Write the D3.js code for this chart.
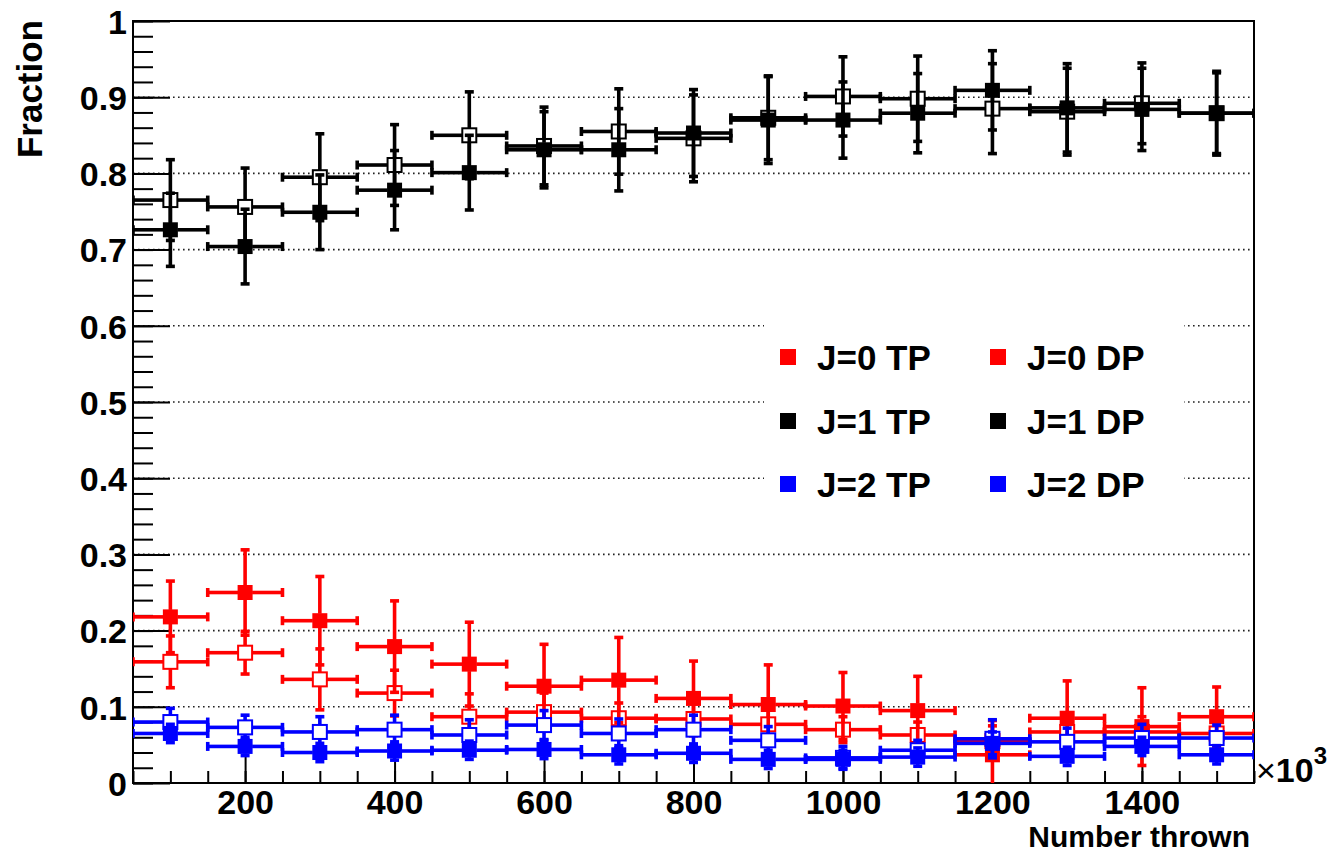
<!DOCTYPE html>
<html><head><meta charset="utf-8">
<script src="https://cdn.jsdelivr.net/npm/d3@7"></script>
<style>
html,body{margin:0;padding:0;background:#fff;}
svg text{font-family:"Liberation Sans",Arial,Helvetica,sans-serif;font-weight:bold;fill:#000;}
</style></head>
<body><svg id="c" width="1332" height="853"></svg>
<script>
// ---- data ----
const xCenters = [100,200,300,400,500,600,700,800,900,1000,1100,1200,1300,1400,1500];
const xHalfWidth = 50;
const j0TP = [0.218,0.250,0.213,0.179,0.156,0.127,0.135,0.111,0.103,0.101,0.095,0.037,0.085,0.074,0.087];
const j0TPerr = [0.047,0.056,0.058,0.060,0.055,0.055,0.056,0.049,0.052,0.044,0.045,0.045,0.049,0.051,0.039];
const j0DP = [0.159,0.171,0.136,0.118,0.087,0.093,0.085,0.084,0.077,0.070,0.063,0.055,0.067,0.067,0.065];
const j0DPerr = [0.034,0.028,0.040,0.030,0.030,0.025,0.020,0.020,0.020,0.017,0.017,0.020,0.020,0.020,0.020];
const j1TP = [0.726,0.704,0.749,0.778,0.801,0.831,0.831,0.853,0.870,0.870,0.879,0.909,0.886,0.884,0.879];
const j1TPerr = [0.048,0.049,0.049,0.052,0.049,0.050,0.054,0.057,0.057,0.050,0.052,0.052,0.058,0.054,0.053];
const j1DP = [0.765,0.756,0.795,0.811,0.850,0.836,0.855,0.846,0.873,0.901,0.898,0.885,0.881,0.892,0.879];
const j1DPerr = [0.053,0.051,0.057,0.053,0.057,0.051,0.056,0.057,0.055,0.052,0.056,0.059,0.057,0.053,0.055];
const j2TP = [0.065,0.048,0.040,0.042,0.043,0.044,0.037,0.039,0.031,0.031,0.034,0.052,0.035,0.048,0.037];
const j2TPerr = [0.012,0.012,0.012,0.012,0.012,0.012,0.012,0.012,0.012,0.012,0.012,0.015,0.012,0.012,0.012];
const j2DP = [0.080,0.073,0.067,0.070,0.063,0.076,0.065,0.070,0.056,0.033,0.043,0.058,0.054,0.059,0.059];
const j2DPerr = [0.018,0.016,0.020,0.019,0.020,0.019,0.019,0.019,0.018,0.015,0.013,0.025,0.018,0.018,0.017];
const yMajorTicks = [0,0.1,0.2,0.3,0.4,0.5,0.6,0.7,0.8,0.9,1];
const yTickLabels = ["0","0.1","0.2","0.3","0.4","0.5","0.6","0.7","0.8","0.9","1"];
const xMajorTicks = [200,400,600,800,1000,1200,1400];
const xTickLabels = ["200","400","600","800","1000","1200","1400"];
const legendLabels = ["J=0 TP","J=0 DP","J=1 TP","J=1 DP","J=2 TP","J=2 DP"];

const series = [
  {name:"J=0 DP", vals:j0DP, errs:j0DPerr, color:"#ff0000", open:true},
  {name:"J=0 TP", vals:j0TP, errs:j0TPerr, color:"#ff0000", open:false},
  {name:"J=1 DP", vals:j1DP, errs:j1DPerr, color:"#000000", open:true},
  {name:"J=1 TP", vals:j1TP, errs:j1TPerr, color:"#000000", open:false},
  {name:"J=2 DP", vals:j2DP, errs:j2DPerr, color:"#0000ff", open:true},
  {name:"J=2 TP", vals:j2TP, errs:j2TPerr, color:"#0000ff", open:false}
];
const legendColors = {"J=0":"#ff0000","J=1":"#000000","J=2":"#0000ff"};

// ---- layout ----
const L=133, R=1254, T=21, B=783;
const x = d3.scaleLinear().domain([50,1550]).range([L,R]);
const y = d3.scaleLinear().domain([0,1]).range([B,T]);
const svg = d3.select("#c");

svg.append("defs").append("clipPath").attr("id","pa")
  .append("rect").attr("x",L).attr("y",T).attr("width",R-L).attr("height",B-T);

// grid (dotted)
svg.append("g").selectAll("line").data(yMajorTicks.filter(v=>v>0&&v<1)).join("line")
  .attr("x1",L).attr("x2",R).attr("y1",d=>y(d)).attr("y2",d=>y(d))
  .attr("stroke","#222").attr("stroke-width",1.6).attr("stroke-dasharray","1.6,3.4");

// legend background
const lg = svg.append("g");
lg.append("rect").attr("x",764).attr("y",319).attr("width",420).attr("height",200).attr("fill","#fff");

// axes
const yMinor = d3.range(0,1.0001,0.02);
svg.append("g").attr("transform",`translate(${L},0)`)
  .call(d3.axisLeft(y).tickValues(yMinor).tickSize(-20).tickFormat(""))
  .call(g=>g.select(".domain").remove())
  .call(g=>g.selectAll("line").attr("stroke","#000").attr("stroke-width",2));
svg.append("g").attr("transform",`translate(${L},0)`)
  .call(d3.axisLeft(y).tickValues(yMajorTicks).tickSize(-37).tickPadding(6).tickFormat((d,i)=>yTickLabels[i]))
  .call(g=>g.select(".domain").remove())
  .call(g=>g.selectAll("line").attr("stroke","#000").attr("stroke-width",2))
  .call(g=>g.selectAll("text").attr("font-size",34).attr("dy","0.36em").attr("font-family","Liberation Sans, Arial, sans-serif").attr("font-weight","bold"));

const xMinor = d3.range(50,1550.01,50);
svg.append("g").attr("transform",`translate(0,${B})`)
  .call(d3.axisBottom(x).tickValues(xMinor).tickSize(-12).tickFormat(""))
  .call(g=>g.select(".domain").remove())
  .call(g=>g.selectAll("line").attr("stroke","#000").attr("stroke-width",2));
svg.append("g").attr("transform",`translate(0,${B})`)
  .call(d3.axisBottom(x).tickValues(xMajorTicks).tickSize(-28).tickPadding(7).tickFormat((d,i)=>xTickLabels[i]))
  .call(g=>g.select(".domain").remove())
  .call(g=>g.selectAll("line").attr("stroke","#000").attr("stroke-width",2))
  .call(g=>g.selectAll("text").attr("font-size",34).attr("dy","0.71em").attr("font-family","Liberation Sans, Arial, sans-serif").attr("font-weight","bold"));

// frame
svg.append("rect").attr("x",L).attr("y",T).attr("width",R-L).attr("height",B-T)
  .attr("fill","none").attr("stroke","#000").attr("stroke-width",2);

// data
const plot = svg.append("g").attr("clip-path","url(#pa)");
const hs = 7, cap = 4.5, lw = 3.6;
series.forEach(s=>{
  const g = plot.append("g");
  xCenters.forEach((xc,i)=>{
    const cx = x(xc), cy = y(s.vals[i]);
    const yt = y(s.vals[i]+s.errs[i]), yb = y(s.vals[i]-s.errs[i]);
    const xl = x(xc-xHalfWidth), xr = x(xc+xHalfWidth);
    const segs = [];
    if (cy-hs > yt) segs.push([cx,cy-hs,cx,yt]);
    if (cy+hs < yb) segs.push([cx,cy+hs,cx,yb]);
    segs.push([xl,cy,cx-hs,cy]);
    segs.push([cx+hs,cy,xr,cy]);
    segs.push([cx-cap,yt,cx+cap,yt]);
    segs.push([cx-cap,yb,cx+cap,yb]);
    segs.push([xl,cy-cap,xl,cy+cap]);
    segs.push([xr,cy-cap,xr,cy+cap]);
    g.selectAll(null).data(segs).join("line")
      .attr("x1",d=>d[0]).attr("y1",d=>d[1]).attr("x2",d=>d[2]).attr("y2",d=>d[3])
      .attr("stroke",s.color).attr("stroke-width",lw);
    if (s.open) {
      g.append("rect").attr("x",cx-hs).attr("y",cy-hs).attr("width",2*hs).attr("height",2*hs)
        .attr("fill","#fff").attr("stroke",s.color).attr("stroke-width",2);
    } else {
      g.append("rect").attr("x",cx-hs-0.5).attr("y",cy-hs-0.5).attr("width",2*hs+1).attr("height",2*hs+1)
        .attr("fill",s.color);
    }
  });
});

// legend entries
const colX = [788, 998], rowY = [357, 421, 484];
legendLabels.forEach((lab,i)=>{
  const c = i%2, r = Math.floor(i/2);
  const col = legendColors[lab.slice(0,3)];
  lg.append("rect").attr("x",colX[c]-8).attr("y",rowY[r]-8).attr("width",16).attr("height",16).attr("fill",col);
  lg.append("text").attr("x",colX[c]+29).attr("y",rowY[r]).attr("dy","0.36em")
    .attr("font-size",35).text(lab);
});

// titles
svg.append("text").attr("transform","translate(42,20) rotate(-90)").attr("text-anchor","end")
  .attr("font-size",35).text("Fraction");
svg.append("text").attr("x",1250).attr("y",847).attr("text-anchor","end")
  .attr("font-size",30).text("Number thrown");
const ex = svg.append("text").attr("x",1256).attr("y",782).attr("font-size",34);
ex.append("tspan").attr("font-weight","normal").text("×");
ex.append("tspan").text("10");
ex.append("tspan").attr("font-size",24).attr("dy",-18).text("3");
</script></body></html>
